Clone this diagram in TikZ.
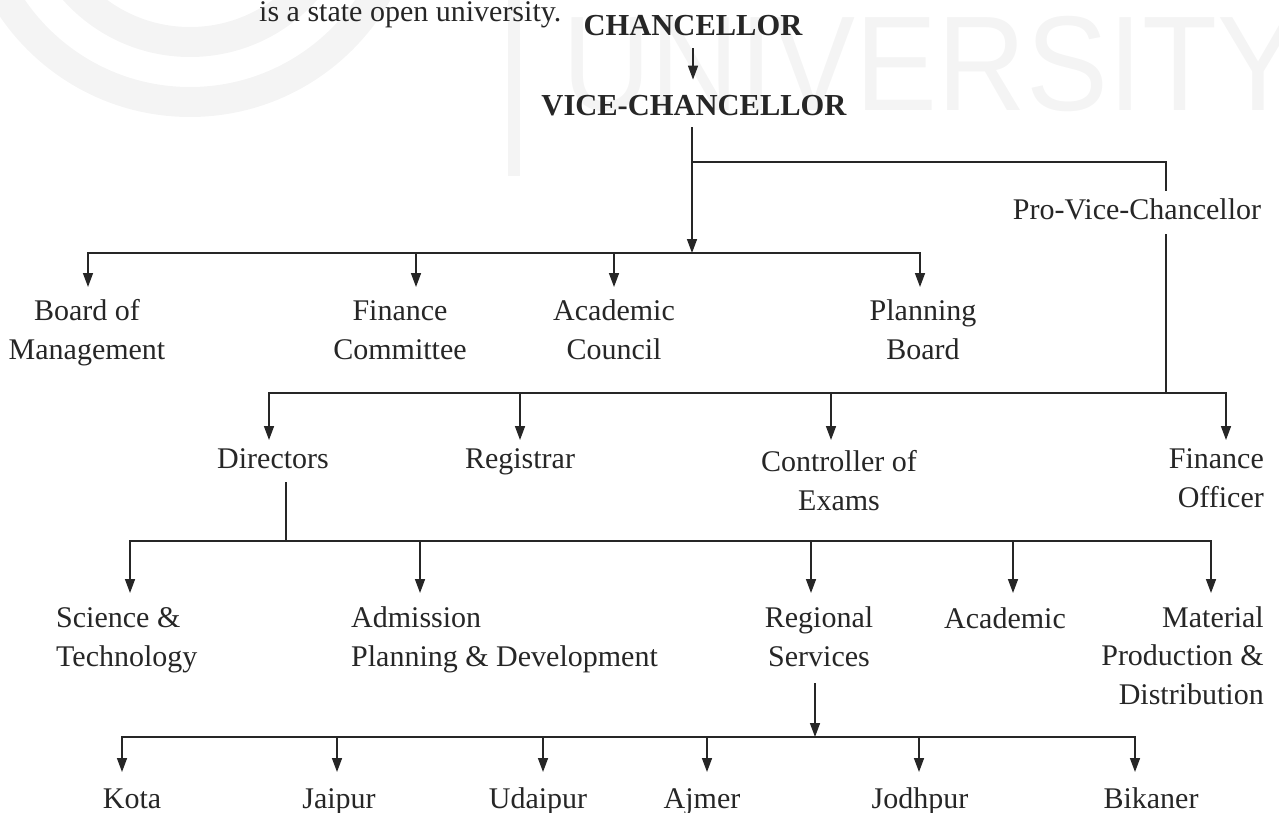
\documentclass[tikz,border=0pt]{standalone}
\usepackage{fontspec}
\setmainfont{Liberation Serif}
\newfontfamily\wmfont[FakeStretch=0.91]{Liberation Sans}
\usetikzlibrary{arrows.meta,positioning,calc}
\definecolor{ink}{HTML}{262626}
\definecolor{wm}{HTML}{F4F4F4}
\newcommand{\lblfont}{\fontsize{30}{38.5}\selectfont}
\newcommand{\headfont}{\fontsize{30.5}{39}\selectfont\bfseries}

\begin{document}
\begin{tikzpicture}[x=1pt,y=-1pt,
  lbl/.style={font=\lblfont,text=ink,inner sep=0pt,align=center},
  head/.style={font=\headfont,text=ink,inner sep=0pt},
  wire/.style={line width=1.5pt,draw=ink,line cap=rect},
  arr/.style={wire,-{Triangle[length=14pt,width=10pt]}}]
\useasboundingbox (0,0) rectangle (1279,812);
% faint watermark behind the chart
\fill[wm,even odd rule] (190,-113) circle (230) (190,-113) circle (200);
\fill[wm,even odd rule] (190,-113) circle (170) (190,-113) circle (140);
\fill[wm] (508,0) rectangle (520,176);
\node[anchor=base west,inner sep=0pt,text=wm,font=\wmfont\fontsize{135}{135}\selectfont] (wmark) at (562,110) {UNIVERSITY};

% top of the chart
\node[lbl,anchor=base west] (intro) at (259,21) {is a state open university.};
\node[head,anchor=base] (ch) at (693,35) {CHANCELLOR};
\node[head,anchor=base] (vc) at (694,115) {VICE-CHANCELLOR};
\node[lbl,anchor=base] (pvc) at (1137,219) {Pro-Vice-Chancellor};

% bodies (base = last line)
\node[lbl,anchor=base] (bom) at (87,359) {Board of\\Management};
\node[lbl,anchor=base] (fc) at (400,359) {Finance\\Committee};
\node[lbl,anchor=base] (ac) at (614,359) {Academic\\Council};
\node[lbl,anchor=base] (pb) at (923,359) {Planning\\Board};

% officers
\node[lbl,anchor=base] (dir) at (273,468) {Directors};
\node[lbl,anchor=base] (reg) at (520,468) {Registrar};
\node[lbl,anchor=base] (coe) at (839,510) {Controller of\\Exams};
\node[lbl,anchor=base east,align=right] (fo) at (1264,507) {Finance\\Officer};

% divisions
\node[lbl,anchor=base west,align=left] (st) at (56,666) {Science \&\\Technology};
\node[lbl,anchor=base west,align=left] (adm) at (351,666) {Admission\\Planning \& Development};
\node[lbl,anchor=base] (rs) at (819,666) {Regional\\Services};
\node[lbl,anchor=base] (aca) at (1005,628) {Academic};
\node[lbl,anchor=base east,align=right] (mpd) at (1264,704) {Material\\Production \&\\Distribution};

% regional centres
\foreach \n/\x/\t in {kota/132/Kota,jaipur/339/Jaipur,udaipur/538/Udaipur,
                      ajmer/702/Ajmer,jodhpur/920/Jodhpur,bikaner/1151/Bikaner}
  \node[lbl,anchor=base] (\n) at (\x,808) {\t};

% buses and joints
\coordinate (bus2) at (0,253);
\coordinate (bus3) at (0,393);
\coordinate (bus4) at (0,541);
\coordinate (bus5) at (0,737);
\coordinate (vcj) at (692,162);
\coordinate (pvcj) at (1166,162);
\coordinate (dirj) at (286,541);
\coordinate (rsj) at (815,737);
\foreach \n/\x in {bom/88,fc/416,ac/614,pb/920}
  \coordinate (\n-in) at (\x,287);
\foreach \n/\x in {dir/269,reg/520,coe/831,fo/1226}
  \coordinate (\n-in) at (\x,440);
\foreach \n/\x in {st/130,adm/420,rs/811,aca/1013,mpd/1211}
  \coordinate (\n-in) at (\x,593);
\foreach \n/\x in {kota/122,jaipur/337,udaipur/543,ajmer/707,jodhpur/919,bikaner/1135}
  \coordinate (\n-in) at (\x,772);

% chancellor down to the bodies
\draw[arr,shorten <=13pt,shorten >=15pt] (ch.south) -- (ch.south |- vc.north);
\draw[arr,shorten <=12pt] (vcj |- vc.south) -- (vcj |- bus2);
\draw[wire,shorten >=7.5pt] (vcj) -- (pvcj) -- (pvcj |- pvc.north);
\draw[wire,shorten <=15pt] (pvcj |- pvc.south) -- (pvcj |- bus3);

\draw[wire] (bom-in |- bus2) -- (pb-in |- bus2);
\foreach \n in {bom,fc,ac,pb}
  \draw[arr] (\n-in |- bus2) -- (\n-in);

\draw[wire] (dir-in |- bus3) -- (fo-in |- bus3);
\foreach \n in {dir,reg,coe,fo}
  \draw[arr] (\n-in |- bus3) -- (\n-in);

\draw[wire,shorten <=14pt] (dirj |- dir.south) -- (dirj);
\draw[wire] (st-in |- bus4) -- (mpd-in |- bus4);
\foreach \n in {st,adm,rs,aca,mpd}
  \draw[arr] (\n-in |- bus4) -- (\n-in);

\draw[arr,shorten <=17pt] (rsj |- rs.south) -- (rsj);
\draw[wire] (kota-in |- bus5) -- (bikaner-in |- bus5);
\foreach \n in {kota,jaipur,udaipur,ajmer,jodhpur,bikaner}
  \draw[arr] (\n-in |- bus5) -- (\n-in);
\end{tikzpicture}
\end{document}
